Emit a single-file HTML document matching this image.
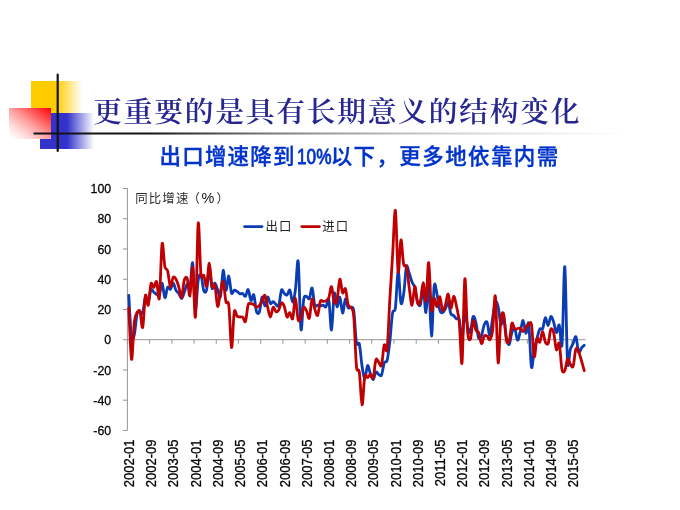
<!DOCTYPE html>
<html lang="zh">
<head>
<meta charset="utf-8">
<title>更重要的是具有长期意义的结构变化</title>
<style>
html,body{margin:0;padding:0;background:#fff;}
body{width:680px;height:510px;overflow:hidden;position:relative;font-family:"Liberation Sans","Noto Sans CJK SC",sans-serif;}
.deco{position:absolute;}
#yel{left:31.2px;top:81.4px;width:50.5px;height:31.8px;background:linear-gradient(to right,#ffcc00 0,#ffcc00 50%,rgba(255,204,0,0) 100%);}
#blu{left:40.3px;top:113.2px;width:53.5px;height:35.6px;background:linear-gradient(to right,#3333cc 0,#3333cc 50%,rgba(51,51,204,0) 100%);}
#red{left:9.2px;top:107.8px;width:41.8px;height:31px;background:linear-gradient(to bottom left,#ff0000 0,#ffa0a0 50%,#ffdcdc 75%,#ffffff 96%);}
h1{position:absolute;left:93.3px;top:91.5px;margin:0;font-family:"Liberation Serif","Noto Serif CJK SC",serif;font-weight:600;font-size:28.8px;line-height:40px;color:#272792;white-space:nowrap;letter-spacing:1.7px;transform-origin:0 100%;transform:scaleY(0.97);}
h2{position:absolute;left:159.6px;top:142.9px;margin:0;font-family:"Liberation Sans","Noto Sans CJK SC",sans-serif;font-weight:500;-webkit-text-stroke:0.35px #0033cc;font-size:21.5px;line-height:28px;color:#0033cc;white-space:nowrap;letter-spacing:1.17px;}
h2 i{font-style:normal;letter-spacing:1.4px;}
h2 span{display:inline-block;letter-spacing:0;font-size:19.8px;font-weight:400;-webkit-text-stroke:0.8px #0033cc;margin-left:1.3px;margin-right:-5.9px;transform-origin:0 60%;transform:scale(0.87,1.07);}
svg{position:absolute;left:0;top:0;}
.yl{font-family:"Liberation Sans",sans-serif;font-size:13px;fill:#000;stroke:#000;stroke-width:0.25px;}
.xl{font-family:"Liberation Sans",sans-serif;font-size:13px;fill:#000;stroke:#000;stroke-width:0.25px;}
.lg{font-family:"Liberation Sans","Noto Sans CJK SC",sans-serif;font-size:12.4px;letter-spacing:1.1px;fill:#222;}
.ct{font-family:"Liberation Sans","Noto Sans CJK SC",sans-serif;font-size:12.4px;letter-spacing:1.2px;fill:#2c2c2c;}
.ct .pc{font-size:14.4px;fill:#111;letter-spacing:0;}
</style>
</head>
<body>
<div class="deco" id="yel"></div>
<div class="deco" id="blu"></div>
<div class="deco" id="red"></div>
<h1>更重要的是具有长期意义的结构变化</h1>
<h2>出口增速降到<span>10%</span><i>以下，更多地依靠内需</i></h2>
<svg width="680" height="510" viewBox="0 0 680 510">
<defs><linearGradient id="hg" x1="0" y1="0" x2="1" y2="0"><stop offset="0" stop-color="#141414"/><stop offset="0.2" stop-color="#141414"/><stop offset="0.37" stop-color="#141414" stop-opacity="0.62"/><stop offset="0.5" stop-color="#141414" stop-opacity="0.42"/><stop offset="0.65" stop-color="#141414" stop-opacity="0.25"/><stop offset="0.8" stop-color="#141414" stop-opacity="0.12"/><stop offset="1" stop-color="#141414" stop-opacity="0"/></linearGradient></defs>
<rect x="33.3" y="132.4" width="590" height="2.2" rx="1.1" fill="url(#hg)"/>
<rect x="56.6" y="73.6" width="2.2" height="78.4" rx="1.1" fill="#141414"/>
<line x1="127.4" y1="188.3" x2="127.4" y2="430.7" stroke="#959595" stroke-width="1"/>
<line x1="122.9" y1="188.50" x2="127.4" y2="188.50" stroke="#959595" stroke-width="1"/>
<text transform="translate(111.2,193.10) scale(0.95,1.05)" text-anchor="end" class="yl">100</text>
<line x1="122.9" y1="218.74" x2="127.4" y2="218.74" stroke="#959595" stroke-width="1"/>
<text transform="translate(111.2,223.34) scale(0.95,1.05)" text-anchor="end" class="yl">80</text>
<line x1="122.9" y1="248.98" x2="127.4" y2="248.98" stroke="#959595" stroke-width="1"/>
<text transform="translate(111.2,253.58) scale(0.95,1.05)" text-anchor="end" class="yl">60</text>
<line x1="122.9" y1="279.22" x2="127.4" y2="279.22" stroke="#959595" stroke-width="1"/>
<text transform="translate(111.2,283.82) scale(0.95,1.05)" text-anchor="end" class="yl">40</text>
<line x1="122.9" y1="309.46" x2="127.4" y2="309.46" stroke="#959595" stroke-width="1"/>
<text transform="translate(111.2,314.06) scale(0.95,1.05)" text-anchor="end" class="yl">20</text>
<line x1="122.9" y1="339.70" x2="127.4" y2="339.70" stroke="#959595" stroke-width="1"/>
<text transform="translate(111.2,344.30) scale(0.95,1.05)" text-anchor="end" class="yl">0</text>
<line x1="122.9" y1="369.94" x2="127.4" y2="369.94" stroke="#959595" stroke-width="1"/>
<text transform="translate(111.2,374.54) scale(0.95,1.05)" text-anchor="end" class="yl">-20</text>
<line x1="122.9" y1="400.18" x2="127.4" y2="400.18" stroke="#959595" stroke-width="1"/>
<text transform="translate(111.2,404.78) scale(0.95,1.05)" text-anchor="end" class="yl">-40</text>
<line x1="122.9" y1="430.42" x2="127.4" y2="430.42" stroke="#959595" stroke-width="1"/>
<text transform="translate(111.2,435.02) scale(0.95,1.05)" text-anchor="end" class="yl">-60</text>
<line x1="127.4" y1="339.7" x2="585.6" y2="339.7" stroke="#959595" stroke-width="1"/>
<line x1="127.40" y1="339.7" x2="127.40" y2="343.7" stroke="#959595" stroke-width="1"/>
<line x1="149.62" y1="339.7" x2="149.62" y2="343.7" stroke="#959595" stroke-width="1"/>
<line x1="171.83" y1="339.7" x2="171.83" y2="343.7" stroke="#959595" stroke-width="1"/>
<line x1="194.05" y1="339.7" x2="194.05" y2="343.7" stroke="#959595" stroke-width="1"/>
<line x1="216.26" y1="339.7" x2="216.26" y2="343.7" stroke="#959595" stroke-width="1"/>
<line x1="238.48" y1="339.7" x2="238.48" y2="343.7" stroke="#959595" stroke-width="1"/>
<line x1="260.70" y1="339.7" x2="260.70" y2="343.7" stroke="#959595" stroke-width="1"/>
<line x1="282.91" y1="339.7" x2="282.91" y2="343.7" stroke="#959595" stroke-width="1"/>
<line x1="305.13" y1="339.7" x2="305.13" y2="343.7" stroke="#959595" stroke-width="1"/>
<line x1="327.34" y1="339.7" x2="327.34" y2="343.7" stroke="#959595" stroke-width="1"/>
<line x1="349.56" y1="339.7" x2="349.56" y2="343.7" stroke="#959595" stroke-width="1"/>
<line x1="371.78" y1="339.7" x2="371.78" y2="343.7" stroke="#959595" stroke-width="1"/>
<line x1="393.99" y1="339.7" x2="393.99" y2="343.7" stroke="#959595" stroke-width="1"/>
<line x1="416.21" y1="339.7" x2="416.21" y2="343.7" stroke="#959595" stroke-width="1"/>
<line x1="438.42" y1="339.7" x2="438.42" y2="343.7" stroke="#959595" stroke-width="1"/>
<line x1="460.64" y1="339.7" x2="460.64" y2="343.7" stroke="#959595" stroke-width="1"/>
<line x1="482.86" y1="339.7" x2="482.86" y2="343.7" stroke="#959595" stroke-width="1"/>
<line x1="505.07" y1="339.7" x2="505.07" y2="343.7" stroke="#959595" stroke-width="1"/>
<line x1="527.29" y1="339.7" x2="527.29" y2="343.7" stroke="#959595" stroke-width="1"/>
<line x1="549.50" y1="339.7" x2="549.50" y2="343.7" stroke="#959595" stroke-width="1"/>
<line x1="571.72" y1="339.7" x2="571.72" y2="343.7" stroke="#959595" stroke-width="1"/>
<text transform="translate(133.99,439.6) rotate(-90) scale(1,1.06)" text-anchor="end" class="xl">2002-01</text>
<text transform="translate(156.20,439.6) rotate(-90) scale(1,1.06)" text-anchor="end" class="xl">2002-09</text>
<text transform="translate(178.42,439.6) rotate(-90) scale(1,1.06)" text-anchor="end" class="xl">2003-05</text>
<text transform="translate(200.64,439.6) rotate(-90) scale(1,1.06)" text-anchor="end" class="xl">2004-01</text>
<text transform="translate(222.85,439.6) rotate(-90) scale(1,1.06)" text-anchor="end" class="xl">2004-09</text>
<text transform="translate(245.07,439.6) rotate(-90) scale(1,1.06)" text-anchor="end" class="xl">2005-05</text>
<text transform="translate(267.28,439.6) rotate(-90) scale(1,1.06)" text-anchor="end" class="xl">2006-01</text>
<text transform="translate(289.50,439.6) rotate(-90) scale(1,1.06)" text-anchor="end" class="xl">2006-09</text>
<text transform="translate(311.72,439.6) rotate(-90) scale(1,1.06)" text-anchor="end" class="xl">2007-05</text>
<text transform="translate(333.93,439.6) rotate(-90) scale(1,1.06)" text-anchor="end" class="xl">2008-01</text>
<text transform="translate(356.15,439.6) rotate(-90) scale(1,1.06)" text-anchor="end" class="xl">2008-09</text>
<text transform="translate(378.36,439.6) rotate(-90) scale(1,1.06)" text-anchor="end" class="xl">2009-05</text>
<text transform="translate(400.58,439.6) rotate(-90) scale(1,1.06)" text-anchor="end" class="xl">2010-01</text>
<text transform="translate(422.80,439.6) rotate(-90) scale(1,1.06)" text-anchor="end" class="xl">2010-09</text>
<text transform="translate(445.01,439.6) rotate(-90) scale(1,1.06)" text-anchor="end" class="xl">2011-05</text>
<text transform="translate(467.23,439.6) rotate(-90) scale(1,1.06)" text-anchor="end" class="xl">2012-01</text>
<text transform="translate(489.44,439.6) rotate(-90) scale(1,1.06)" text-anchor="end" class="xl">2012-09</text>
<text transform="translate(511.66,439.6) rotate(-90) scale(1,1.06)" text-anchor="end" class="xl">2013-05</text>
<text transform="translate(533.88,439.6) rotate(-90) scale(1,1.06)" text-anchor="end" class="xl">2014-01</text>
<text transform="translate(556.09,439.6) rotate(-90) scale(1,1.06)" text-anchor="end" class="xl">2014-09</text>
<text transform="translate(578.31,439.6) rotate(-90) scale(1,1.06)" text-anchor="end" class="xl">2015-05</text>
<path d="M128.79,295.40C129.37,304.31 130.45,330.34 131.57,338.19C132.30,343.40 133.57,337.99 134.34,334.56C135.42,329.82 136.03,318.16 137.12,313.69C137.88,310.60 138.96,312.03 139.90,311.88C140.81,311.73 141.91,314.81 142.67,312.79C143.76,309.92 144.41,299.25 145.45,297.21C146.26,295.62 147.39,303.04 148.23,301.90C149.24,300.52 149.95,291.48 151.00,289.65C151.81,288.26 152.85,291.43 153.78,292.22C154.70,293.00 155.61,293.98 156.56,294.34C157.46,294.68 158.55,295.90 159.34,294.34C160.40,292.22 161.22,282.77 162.11,283.30C163.07,283.87 163.93,296.99 164.89,297.67C165.78,298.30 166.62,288.80 167.67,287.23C168.47,286.02 169.59,289.98 170.44,289.35C171.44,288.62 172.31,282.98 173.22,283.15C174.16,283.33 175.00,288.56 176.00,290.41C176.85,291.99 177.89,292.13 178.77,293.43C179.74,294.85 180.64,298.75 181.55,298.57C182.49,298.39 183.43,294.70 184.33,292.37C185.28,289.91 186.11,284.99 187.11,284.21C187.96,283.53 189.12,290.91 189.88,287.99C190.97,283.86 191.80,259.69 192.66,263.04C193.66,266.94 194.46,306.78 195.44,309.76C196.31,312.43 197.13,286.78 198.21,279.98C198.98,275.13 200.17,273.26 200.99,274.84C202.02,276.83 202.68,287.72 203.77,290.71C204.53,292.81 205.79,292.98 206.54,290.11C207.65,285.88 208.39,269.67 209.32,269.39C210.24,269.12 211.05,285.88 212.10,288.44C212.90,290.42 213.97,282.80 214.88,283.00C215.82,283.21 216.73,287.38 217.65,289.65C218.58,291.96 219.63,299.54 220.43,296.76C221.48,293.09 222.25,271.42 223.21,270.30C224.10,269.25 225.02,289.29 225.98,290.26C226.87,291.15 227.86,275.43 228.76,275.89C229.71,276.38 230.47,290.39 231.54,293.13C232.32,295.13 233.36,290.39 234.31,290.11C235.21,289.84 236.19,290.85 237.09,291.47C238.04,292.11 238.91,293.55 239.87,293.89C240.76,294.20 241.76,293.05 242.65,293.43C243.61,293.85 244.57,296.91 245.42,296.31C246.42,295.60 247.32,288.83 248.20,289.50C249.17,290.25 249.99,299.60 250.98,300.54C251.84,301.36 252.93,293.14 253.75,294.79C254.79,296.87 255.44,308.31 256.53,311.73C257.29,314.11 258.54,314.18 259.31,312.18C260.39,309.35 261.10,298.31 262.08,297.21C262.95,296.24 263.94,306.03 264.86,305.98C265.79,305.93 266.68,297.33 267.64,296.91C268.53,296.52 269.40,302.68 270.42,303.56C271.26,304.30 272.29,301.60 273.19,301.75C274.14,301.90 275.01,303.82 275.97,304.47C276.86,305.08 277.98,307.52 278.75,305.53C279.83,302.73 280.47,292.41 281.52,290.11C282.32,288.38 283.34,292.59 284.30,293.43C285.19,294.21 286.22,295.46 287.08,294.94C288.07,294.35 289.02,289.01 289.85,290.11C290.87,291.43 291.71,302.25 292.63,302.20C293.56,302.15 294.57,295.94 295.41,289.80C296.42,282.38 297.35,255.63 298.19,261.53C299.21,268.78 299.95,322.39 300.96,329.27C301.80,334.94 302.64,305.72 303.74,299.18C304.49,294.74 305.58,296.38 306.52,296.31C307.43,296.23 308.48,299.94 309.29,298.72C310.34,297.17 311.20,286.94 312.07,287.99C313.05,289.16 313.75,301.98 314.85,305.38C315.60,307.73 316.70,305.13 317.62,305.23C318.55,305.33 319.48,305.98 320.40,305.98C321.33,305.98 322.27,305.08 323.18,305.23C324.12,305.38 325.13,307.75 325.96,306.89C326.98,305.83 327.94,296.21 328.73,299.48C329.79,303.87 330.60,330.86 331.51,329.87C332.46,328.84 333.25,297.73 334.29,293.43C335.11,290.02 336.10,306.08 337.06,306.74C337.95,307.34 338.97,296.22 339.84,297.21C340.82,298.33 341.68,312.78 342.62,313.09C343.53,313.39 344.42,299.96 345.39,299.03C346.27,298.19 347.12,306.26 348.17,307.80C348.97,308.98 350.07,306.74 350.95,307.19C351.93,307.70 352.98,305.83 353.73,310.67C354.83,317.78 355.38,336.33 356.50,343.03C357.23,347.41 358.53,340.82 359.28,343.93C360.38,348.53 361.07,359.99 362.06,366.16C362.92,371.53 363.91,378.66 364.83,378.56C365.76,378.46 366.64,366.38 367.61,365.56C368.49,364.81 369.43,371.44 370.39,373.87C371.28,376.12 372.27,379.91 373.16,379.62C374.12,379.31 374.93,372.99 375.94,372.06C376.78,371.28 377.76,373.96 378.72,374.48C379.61,374.96 380.72,376.73 381.50,375.08C382.57,372.80 383.22,365.45 384.27,362.68C385.07,360.61 386.28,363.48 387.05,360.57C388.14,356.43 388.95,349.06 389.83,341.51C390.80,333.19 391.52,319.47 392.60,312.94C393.37,308.28 394.63,313.71 395.38,307.95C396.48,299.59 397.22,271.45 398.16,270.60C399.07,269.78 399.88,298.61 400.93,302.96C401.74,306.27 402.90,298.96 403.71,293.58C404.75,286.76 405.43,270.23 406.49,266.37C407.28,263.47 408.36,270.77 409.27,273.32C410.21,276.01 411.07,279.58 412.04,282.09C412.92,284.37 413.98,284.73 414.82,287.69C415.84,291.29 416.55,298.46 417.60,301.75C418.40,304.26 419.59,307.16 420.37,305.08C421.44,302.22 422.26,285.72 423.15,286.93C424.12,288.24 425.02,313.33 425.93,312.64C426.87,311.92 427.84,279.06 428.70,282.70C429.69,286.88 430.55,335.59 431.48,336.07C432.40,336.55 433.17,293.69 434.26,285.57C435.02,279.83 436.17,290.63 437.04,294.49C438.02,298.90 438.74,306.86 439.81,310.37C440.59,312.91 441.69,312.88 442.59,312.64C443.55,312.37 444.48,310.44 445.37,308.86C446.33,307.12 447.28,301.88 448.14,302.66C449.13,303.54 449.87,311.38 450.92,313.84C451.72,315.71 452.80,314.85 453.70,315.66C454.65,316.52 455.50,318.17 456.47,318.83C457.36,319.43 458.50,316.52 459.25,319.44C460.35,323.73 461.14,341.67 462.03,340.46C462.99,339.15 463.80,314.44 464.81,311.88C465.66,309.70 466.57,322.52 467.58,326.24C468.42,329.33 469.53,333.74 470.36,332.29C471.38,330.51 472.12,318.35 473.14,316.57C473.97,315.12 475.08,319.38 475.91,322.61C476.93,326.59 477.62,335.69 478.69,338.19C479.47,340.02 480.66,337.58 481.47,335.62C482.51,333.10 483.20,327.25 484.24,324.73C485.06,322.77 486.23,320.64 487.02,322.16C488.08,324.17 488.90,335.93 489.80,335.32C490.75,334.67 491.65,323.97 492.58,318.38C493.50,312.83 494.31,304.08 495.35,301.90C496.16,300.20 497.33,303.46 498.13,306.74C499.18,311.02 499.89,322.61 500.91,324.58C501.74,326.19 502.87,315.47 503.68,317.47C504.72,320.01 505.42,333.13 506.46,338.19C507.27,342.10 508.38,345.34 509.24,344.39C510.23,343.28 510.97,334.91 512.01,331.99C512.82,329.72 513.97,327.61 514.79,328.81C515.83,330.33 516.62,339.74 517.57,340.15C518.47,340.55 519.44,334.44 520.35,331.23C521.29,327.89 522.22,320.18 523.12,320.50C524.07,320.83 524.94,332.65 525.90,333.20C526.79,333.71 527.90,318.91 528.68,323.67C529.75,330.20 530.43,362.27 531.45,367.07C532.28,370.94 533.26,354.71 534.23,349.68C535.11,345.13 536.06,341.85 537.01,338.34C537.91,334.99 538.73,330.92 539.78,329.12C540.58,327.75 541.78,330.42 542.56,328.81C543.63,326.64 544.38,318.35 545.34,317.78C546.23,317.24 547.20,325.69 548.12,325.49C549.06,325.28 549.92,317.15 550.89,316.57C551.77,316.04 552.81,319.67 553.67,322.16C554.66,325.01 555.49,332.10 556.45,332.59C557.34,333.05 558.40,323.23 559.22,325.03C560.25,327.26 561.21,352.97 562.00,344.69C563.06,333.52 563.88,263.80 564.78,266.67C565.73,269.69 566.45,345.99 567.55,362.38C568.31,373.56 569.33,352.80 570.33,349.38C571.18,346.50 572.19,345.55 573.11,343.48C574.05,341.36 575.05,335.50 575.89,336.83C576.90,338.42 577.62,350.15 578.66,352.25C579.47,353.88 580.48,349.21 581.44,348.02C582.33,346.89 583.64,345.86 584.22,345.29" fill="none" stroke="#0a3cb4" stroke-width="2.8" stroke-linejoin="round" stroke-linecap="round"/>
<path d="M128.79,308.25C129.37,318.90 130.61,357.06 131.57,359.36C132.46,361.49 133.28,330.54 134.34,321.56C135.13,314.92 136.07,314.42 137.12,312.48C137.93,310.99 139.13,309.21 139.90,311.27C140.98,314.20 141.82,329.88 142.67,327.45C143.67,324.59 144.40,299.58 145.45,295.40C146.26,292.17 147.38,306.99 148.23,305.23C149.24,303.11 149.93,287.21 151.00,283.76C151.78,281.27 152.89,287.72 153.78,287.38C154.75,287.02 155.74,280.05 156.56,281.64C157.59,283.63 158.53,303.59 159.34,298.12C160.38,290.99 161.09,249.61 162.11,243.84C162.94,239.13 163.82,261.42 164.89,266.67C165.67,270.49 166.86,268.11 167.67,271.06C168.71,274.86 169.46,285.84 170.44,286.93C171.32,287.90 172.18,278.70 173.22,277.25C174.03,276.13 175.17,277.79 176.00,279.22C177.02,280.97 177.89,283.85 178.77,286.78C179.74,289.95 180.68,298.58 181.55,297.52C182.53,296.32 183.24,283.75 184.33,279.98C185.10,277.30 186.34,275.97 187.11,278.16C188.19,281.26 189.01,297.52 189.88,295.85C190.86,293.99 191.80,264.33 192.66,267.58C193.65,271.29 194.58,323.53 195.44,316.72C196.43,308.76 197.22,230.79 198.21,223.28C199.07,216.78 199.86,264.05 200.99,274.68C201.71,281.43 202.98,273.83 203.77,275.44C204.83,277.61 205.70,287.88 206.54,286.02C207.55,283.80 208.40,263.07 209.32,263.19C210.25,263.32 211.00,282.40 212.10,286.78C212.85,289.76 214.12,282.60 214.88,285.27C215.97,289.15 216.68,305.22 217.65,306.44C218.53,307.54 219.47,296.50 220.43,292.22C221.32,288.23 222.35,280.15 223.21,281.64C224.20,283.37 224.90,297.37 225.98,301.90C226.76,305.14 228.03,298.88 228.76,304.92C229.88,314.10 230.59,346.40 231.54,347.56C232.44,348.67 233.22,317.95 234.31,311.73C235.07,307.47 236.10,315.17 237.09,316.11C237.95,316.93 238.94,316.87 239.87,317.02C240.79,317.17 241.79,316.34 242.65,317.02C243.64,317.81 244.62,323.20 245.42,321.40C246.47,319.06 247.11,308.09 248.20,304.62C248.96,302.19 250.05,303.71 250.98,303.71C251.90,303.71 252.86,304.06 253.75,304.62C254.71,305.22 255.59,307.04 256.53,307.19C257.44,307.34 258.44,306.48 259.31,305.53C260.29,304.46 261.19,302.81 262.08,301.14C263.04,299.38 264.01,294.32 264.86,295.25C265.86,296.33 266.69,303.48 267.64,307.19C268.54,310.74 269.49,317.02 270.42,317.02C271.34,317.02 272.19,308.14 273.19,307.19C274.05,306.38 274.99,311.25 275.97,311.73C276.84,312.16 277.91,311.25 278.75,309.91C279.76,308.28 280.54,303.42 281.52,302.81C282.39,302.26 283.47,304.31 284.30,306.44C285.32,309.05 286.07,315.92 287.08,317.02C287.92,317.94 288.96,312.22 289.85,312.48C290.81,312.77 291.82,320.77 292.63,318.68C293.67,315.99 294.49,297.92 295.41,298.12C296.34,298.32 297.09,316.02 298.19,319.89C298.94,322.57 300.15,319.58 300.96,317.78C302.01,315.45 302.72,308.78 303.74,307.49C304.57,306.46 305.66,309.16 306.52,310.82C307.51,312.74 308.47,319.99 309.29,318.23C310.32,316.06 311.08,300.62 312.07,299.03C312.93,297.65 313.87,306.43 314.85,309.31C315.72,311.87 316.78,316.59 317.62,315.36C318.64,313.87 319.32,303.85 320.40,301.14C321.17,299.22 322.25,301.50 323.18,301.45C324.11,301.40 325.07,301.40 325.96,300.84C326.92,300.24 327.92,300.05 328.73,297.97C329.77,295.31 330.62,285.90 331.51,286.63C332.47,287.42 333.22,299.94 334.29,302.50C335.07,304.38 336.30,303.14 337.06,299.93C338.15,295.38 338.87,280.46 339.84,279.22C340.72,278.10 341.58,291.05 342.62,292.83C343.43,294.23 344.59,287.02 345.39,288.75C346.44,291.00 347.10,301.17 348.17,304.77C348.96,307.42 350.12,305.79 350.95,307.49C351.97,309.57 352.96,307.96 353.73,316.11C354.81,327.71 355.39,355.62 356.50,366.76C357.24,374.22 358.52,366.67 359.28,371.91C360.37,379.37 361.12,404.15 362.06,404.87C362.97,405.56 363.72,381.59 364.83,376.14C365.57,372.51 366.72,377.92 367.61,377.65C368.57,377.36 369.46,374.45 370.39,374.48C371.32,374.50 372.38,379.89 373.16,377.80C374.23,374.95 374.86,362.68 375.94,359.66C376.71,357.49 377.81,361.28 378.72,362.23C379.66,363.20 380.72,367.80 381.50,365.40C382.57,362.06 383.21,348.06 384.27,344.99C385.06,342.72 386.31,355.44 387.05,349.38C388.16,340.22 388.89,315.27 389.83,299.33C390.74,283.87 391.68,269.97 392.60,255.18C393.53,240.34 394.49,207.71 395.38,210.42C396.34,213.36 397.16,266.82 398.16,272.11C399.01,276.64 399.98,241.21 400.93,239.91C401.83,238.69 402.61,259.25 403.71,264.55C404.46,268.17 405.73,263.45 406.49,266.67C407.58,271.31 408.32,281.52 409.27,288.14C410.17,294.42 411.13,305.65 412.04,305.38C412.98,305.10 413.88,286.84 414.82,286.48C415.73,286.13 416.51,300.35 417.60,303.26C418.37,305.34 419.61,304.27 420.37,301.45C421.46,297.42 422.22,282.77 423.15,282.70C424.07,282.62 425.08,304.05 425.93,300.99C426.93,297.35 427.80,261.07 428.70,262.59C429.66,264.19 430.42,303.51 431.48,310.37C432.27,315.46 433.29,299.05 434.26,298.42C435.15,297.84 436.13,307.01 437.04,306.74C437.98,306.46 438.92,296.15 439.81,296.76C440.77,297.41 441.57,309.00 442.59,310.52C443.42,311.77 444.51,307.62 445.37,305.08C446.36,302.12 447.24,293.55 448.14,294.04C449.10,294.56 449.98,307.71 450.92,308.10C451.83,308.47 452.75,296.61 453.70,296.31C454.61,296.01 455.60,302.25 456.47,306.28C457.45,310.77 458.43,313.48 459.25,321.86C460.28,332.33 461.18,369.38 462.03,362.83C463.03,355.06 463.83,284.40 464.81,278.92C465.68,274.02 466.49,319.78 467.58,331.69C468.34,339.89 469.53,340.92 470.36,339.25C471.38,337.19 472.14,322.13 473.14,320.50C473.99,319.10 474.88,327.92 475.91,330.17C476.73,331.96 477.88,330.64 478.69,332.59C479.73,335.12 480.50,343.03 481.47,343.63C482.35,344.19 483.21,337.48 484.24,336.07C485.06,334.96 486.15,335.50 487.02,336.07C488.00,336.71 488.95,340.53 489.80,339.70C490.81,338.71 491.78,336.85 492.58,330.63C493.63,322.34 494.50,291.23 495.35,296.15C496.35,301.92 497.16,358.79 498.13,362.68C499.01,366.20 499.80,328.06 500.91,318.38C501.65,311.93 502.92,311.29 503.68,314.30C504.77,318.54 505.35,334.86 506.46,340.15C507.20,343.68 508.48,343.07 509.24,340.76C510.33,337.43 510.98,325.38 512.01,323.22C512.83,321.50 513.77,328.15 514.79,329.12C515.63,329.91 516.64,328.66 517.57,328.51C518.49,328.36 519.47,327.71 520.35,328.21C521.32,328.77 522.22,331.86 523.12,331.69C524.07,331.51 524.93,328.38 525.90,327.15C526.79,326.02 527.72,325.05 528.68,324.58C529.57,324.14 530.72,320.19 531.45,324.43C532.57,330.93 533.24,354.28 534.23,356.79C535.09,358.97 535.94,341.30 537.01,338.49C537.79,336.42 538.96,343.18 539.78,342.12C540.81,340.81 541.64,331.38 542.56,331.38C543.49,331.38 544.28,339.84 545.34,342.12C546.13,343.83 547.34,345.14 548.12,343.33C549.19,340.81 549.85,331.11 550.89,329.12C551.70,327.58 552.88,329.79 553.67,332.74C554.73,336.70 555.42,347.88 556.45,349.83C557.27,351.41 558.43,340.48 559.22,343.33C560.28,347.14 560.89,364.31 562.00,369.79C562.74,373.44 563.99,372.23 564.78,370.70C565.84,368.60 566.55,360.08 567.55,358.90C568.40,357.91 569.35,362.88 570.33,364.19C571.20,365.35 572.34,368.43 573.11,366.31C574.19,363.34 574.82,351.69 575.89,348.92C576.67,346.90 577.82,350.19 578.66,351.95C579.68,354.07 580.53,357.52 581.44,360.57C582.38,363.72 583.64,368.47 584.22,370.54" fill="none" stroke="#c00000" stroke-width="2.8" stroke-linejoin="round" stroke-linecap="round"/>
<line x1="244.6" y1="226.6" x2="262" y2="226.6" stroke="#0a3cb4" stroke-width="2.8" stroke-linecap="round"/>
<text x="265.6" y="231.2" class="lg">出口</text>
<line x1="301.8" y1="226.6" x2="319.4" y2="226.6" stroke="#c00000" stroke-width="2.8" stroke-linecap="round"/>
<text x="322.2" y="231.2" class="lg">进口</text>
<text x="135.2" y="202.8" class="ct">同比增速<tspan class="p" x="187.6">（</tspan><tspan class="pc" x="201.6">%</tspan><tspan class="p" x="216.4">）</tspan></text>
</svg>
</body>
</html>
